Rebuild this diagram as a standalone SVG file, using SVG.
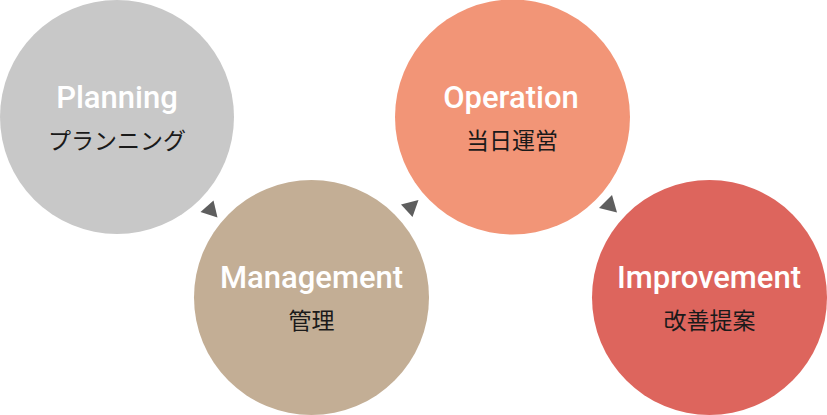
<svg xmlns="http://www.w3.org/2000/svg" width="827" height="415" viewBox="0 0 827 415">
<style>
.en{font-family:Roboto,"DejaVu Sans",sans-serif;font-weight:500;font-size:31px;fill:#ffffff;text-anchor:middle}
.jp{font-family:"Noto Sans CJK JP","Noto Sans",sans-serif;font-weight:400;font-size:23px;fill:#1a1a1a;text-anchor:middle}
.arr{fill:#5e5e5e}
</style>
<rect width="827" height="415" fill="#ffffff"/>
<g id="planning">
<circle cx="117" cy="117" r="117" fill="#c8c8c8"/>
<text class="en" x="117" y="108">Planning</text>
<text class="jp" x="117" y="149">プランニング</text>
</g>
<g id="management">
<circle cx="311.5" cy="297.5" r="117.5" fill="#c3ae95"/>
<text class="en" x="311.5" y="288">Management</text>
<text class="jp" x="311.5" y="329">管理</text>
</g>
<g id="operation">
<circle cx="512.5" cy="117" r="117.5" fill="#f29577"/>
<text class="en" x="511" y="108">Operation</text>
<text class="jp" x="512" y="149">当日運営</text>
</g>
<g id="improvement">
<circle cx="709.5" cy="297.5" r="117.5" fill="#dd655d"/>
<text class="en" x="709" y="288">Improvement</text>
<text class="jp" x="709.5" y="329">改善提案</text>
</g>
<g id="connectors">
<polygon class="arr" points="213.5,200.5 217.5,217.5 200.5,212"/>
<polygon class="arr" points="401,204.5 418.5,200 412.5,217"/>
<polygon class="arr" points="612,195 599,208 617,212.5"/>
</g>
</svg>
